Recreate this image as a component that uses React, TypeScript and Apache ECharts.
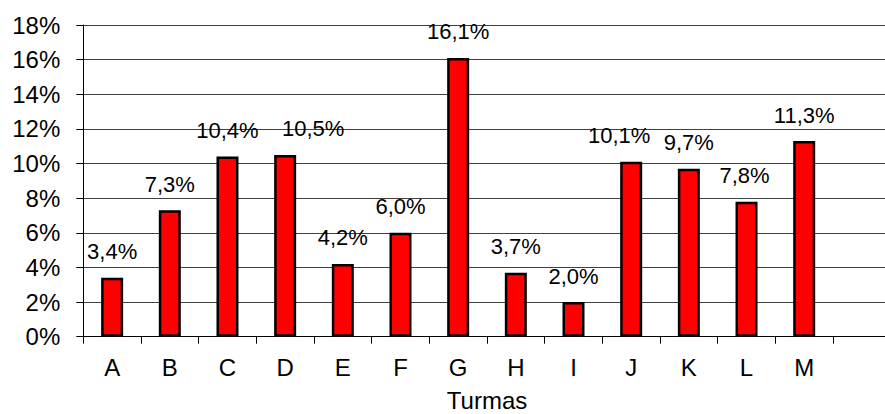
import React, { useEffect, useRef } from "react";
import * as echarts from "echarts";

const categories = ["A", "B", "C", "D", "E", "F", "G", "H", "I", "J", "K", "L", "M", ""];
const values: (number | null)[] = [3.4, 7.3, 10.4, 10.5, 4.2, 6.0, 16.1, 3.7, 2.0, 10.1, 9.7, 7.8, 11.3, null];
const yMin = 0;
const yMax = 18;
const yStep = 2;
const xTitle = "Turmas";

const FONT = "'Liberation Sans', Arial, sans-serif";

// label nudges (Excel moved a few labels sideways to avoid overlaps)
const labelNudge: Record<string, [number, number]> = { D: [28, 0], J: [-12, 0], L: [-2, 0] };

export default function App() {
  const ref = useRef<HTMLDivElement>(null);
  useEffect(() => {
    document.body.style.margin = "0";
    if (!ref.current) return;
    const chart = echarts.init(ref.current, undefined, { renderer: "svg" });
    const seriesData = values.map((v, i) => {
      const nudge = labelNudge[categories[i]];
      return nudge ? { value: v, label: { offset: nudge } } : { value: v };
    });
    chart.setOption({
      animation: false,
      backgroundColor: "#fff",
      grid: {
        left: 83.3,
        top: 25,
        width: 807.4,
        height: 311.7,
        containLabel: false,
        outerBoundsMode: "none",
      },
      xAxis: {
        type: "category",
        data: categories,
        boundaryGap: true,
        name: xTitle,
        nameLocation: "middle",
        nameGap: 52,
        nameTextStyle: { fontFamily: FONT, fontSize: 24, color: "#000" },
        axisLine: { show: true, lineStyle: { color: "#000", width: 1 } },
        axisTick: { show: true, length: 7, alignWithLabel: false, lineStyle: { color: "#000" } },
        axisLabel: { fontFamily: FONT, fontSize: 24, color: "#000", margin: 19, interval: 0 },
        splitLine: { show: false },
      },
      yAxis: {
        type: "value",
        min: yMin,
        max: yMax,
        interval: yStep,
        axisLine: { show: true, lineStyle: { color: "#000", width: 1 } },
        axisTick: { show: true, length: 7, lineStyle: { color: "#000" } },
        axisLabel: {
          fontFamily: FONT,
          fontSize: 24,
          color: "#000",
          margin: 23,
          formatter: (v: number) => `${v}%`,
        },
        splitLine: { show: true, lineStyle: { color: "#404040", width: 1 } },
      },
      series: [
        {
          type: "bar",
          data: seriesData,
          barWidth: 22,
          itemStyle: { color: "#ff0000", borderColor: "#000", borderWidth: 2.5 },
          label: {
            show: true,
            position: "top",
            distance: 15,
            fontFamily: FONT,
            fontSize: 22,
            color: "#000",
            formatter: (p: any) =>
              p.value == null ? "" : `${Number(p.value).toFixed(1).replace(".", ",")}%`,
          },
        },
      ],
    });
    return () => chart.dispose();
  }, []);
  return <div ref={ref} style={{ width: 885, height: 414 }} />;
}
